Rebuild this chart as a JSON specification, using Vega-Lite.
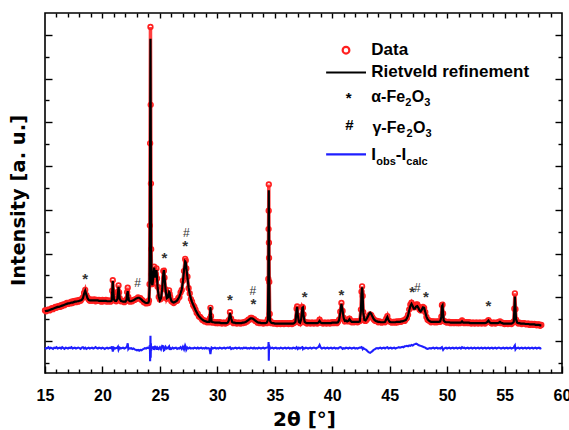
{
  "$schema": "https://vega.github.io/schema/vega-lite/v6.json",
  "width": 517,
  "height": 360,
  "autosize": {"type": "none"},
  "padding": {"left": 45, "top": 13, "right": 7, "bottom": 57},
  "background": "white",
  "config": {
    "view": {"stroke": "black", "strokeWidth": 1.6},
    "axis": {"domain": false, "grid": false, "tickColor": "black", "tickWidth": 1.4, "labels": false}
  },
  "data": {"values": [
{"x":15.0,"c":0.68,"o":0.70,"d":-0.15},{"x":15.1,"c":0.69,"o":0.68,"d":-0.17},{"x":15.2,"c":0.69,"o":0.71,"d":-0.16},{"x":15.3,"c":0.70,"o":0.72,"d":-0.14},{"x":15.4,"c":0.71,"o":0.70,"d":-0.17},
{"x":15.5,"c":0.72,"o":0.73,"d":-0.15},{"x":15.6,"c":0.73,"o":0.75,"d":-0.16},{"x":15.7,"c":0.74,"o":0.73,"d":-0.18},{"x":15.8,"c":0.75,"o":0.76,"d":-0.15},{"x":15.9,"c":0.76,"o":0.78,"d":-0.16},
{"x":16.0,"c":0.77,"o":0.76,"d":-0.14},{"x":16.1,"c":0.78,"o":0.79,"d":-0.17},{"x":16.2,"c":0.78,"o":0.80,"d":-0.16},{"x":16.3,"c":0.79,"o":0.78,"d":-0.15},{"x":16.4,"c":0.80,"o":0.82,"d":-0.17},
{"x":16.5,"c":0.81,"o":0.80,"d":-0.14},{"x":16.6,"c":0.82,"o":0.84,"d":-0.16},{"x":16.7,"c":0.83,"o":0.82,"d":-0.18},{"x":16.8,"c":0.84,"o":0.85,"d":-0.15},{"x":16.9,"c":0.85,"o":0.87,"d":-0.16},
{"x":17.0,"c":0.86,"o":0.85,"d":-0.17},{"x":17.1,"c":0.86,"o":0.88,"d":-0.15},{"x":17.2,"c":0.87,"o":0.86,"d":-0.16},{"x":17.3,"c":0.88,"o":0.90,"d":-0.14},{"x":17.4,"c":0.88,"o":0.87,"d":-0.17},
{"x":17.5,"c":0.89,"o":0.91,"d":-0.16},{"x":17.6,"c":0.90,"o":0.92,"d":-0.15},{"x":17.7,"c":0.90,"o":0.89,"d":-0.17},{"x":17.8,"c":0.91,"o":0.93,"d":-0.16},{"x":17.9,"c":0.91,"o":0.90,"d":-0.15},
{"x":18.0,"c":0.92,"o":0.94,"d":-0.16},{"x":18.1,"c":0.93,"o":0.92,"d":-0.18},{"x":18.2,"c":0.94,"o":0.96,"d":-0.15},{"x":18.3,"c":0.98,"o":1.00,"d":-0.14},{"x":18.4,"c":1.08,"o":1.10,"d":-0.17},
{"x":18.5,"c":1.15,"o":1.17,"d":-0.15},{"x":18.6,"c":1.06,"o":1.05,"d":-0.18},{"x":18.7,"c":0.98,"o":0.99,"d":-0.16},{"x":18.8,"c":0.94,"o":0.95,"d":-0.15},{"x":18.9,"c":0.93,"o":0.92,"d":-0.17},
{"x":19.0,"c":0.93,"o":0.95,"d":-0.16},{"x":19.1,"c":0.93,"o":0.92,"d":-0.15},{"x":19.2,"c":0.93,"o":0.94,"d":-0.17},{"x":19.3,"c":0.93,"o":0.95,"d":-0.16},{"x":19.4,"c":0.93,"o":0.91,"d":-0.14},
{"x":19.5,"c":0.93,"o":0.94,"d":-0.16},{"x":19.6,"c":0.93,"o":0.92,"d":-0.17},{"x":19.7,"c":0.92,"o":0.94,"d":-0.15},{"x":19.8,"c":0.92,"o":0.93,"d":-0.16},{"x":19.9,"c":0.92,"o":0.90,"d":-0.17},
{"x":20.0,"c":0.92,"o":0.94,"d":-0.15},{"x":20.1,"c":0.92,"o":0.91,"d":-0.16},{"x":20.2,"c":0.92,"o":0.93,"d":-0.18},{"x":20.3,"c":0.92,"o":0.94,"d":-0.16},{"x":20.4,"c":0.91,"o":0.90,"d":-0.15},
{"x":20.5,"c":0.91,"o":0.93,"d":-0.17},{"x":20.6,"c":0.91,"o":0.92,"d":-0.16},{"x":20.7,"c":0.91,"o":0.90,"d":-0.15},{"x":20.8,"c":0.92,"o":0.93,"d":-0.17},{"x":20.85,"c":1.10,"o":1.15,"d":-0.12},
{"x":20.9,"c":1.37,"o":1.39,"d":-0.24},{"x":20.95,"c":1.12,"o":1.10,"d":-0.19},{"x":21.0,"c":0.95,"o":0.96,"d":-0.15},{"x":21.1,"c":0.92,"o":0.93,"d":-0.17},{"x":21.2,"c":0.92,"o":0.91,"d":-0.16},
{"x":21.3,"c":0.96,"o":0.98,"d":-0.15},{"x":21.35,"c":1.10,"o":1.13,"d":-0.13},{"x":21.4,"c":1.24,"o":1.27,"d":-0.20},{"x":21.45,"c":1.12,"o":1.11,"d":-0.17},{"x":21.5,"c":0.97,"o":0.98,"d":-0.15},
{"x":21.6,"c":0.92,"o":0.91,"d":-0.17},{"x":21.7,"c":0.91,"o":0.92,"d":-0.16},{"x":21.8,"c":0.90,"o":0.91,"d":-0.15},{"x":21.9,"c":0.90,"o":0.89,"d":-0.17},{"x":22.0,"c":0.90,"o":0.91,"d":-0.16},
{"x":22.1,"c":0.94,"o":0.96,"d":-0.14},{"x":22.15,"c":1.08,"o":1.12,"d":-0.11},{"x":22.2,"c":1.14,"o":1.22,"d":-0.05},{"x":22.25,"c":1.02,"o":1.01,"d":-0.18},{"x":22.3,"c":0.93,"o":0.94,"d":-0.16},
{"x":22.4,"c":0.91,"o":0.90,"d":-0.17},{"x":22.5,"c":0.91,"o":0.92,"d":-0.16},{"x":22.6,"c":0.92,"o":0.91,"d":-0.18},{"x":22.7,"c":0.93,"o":0.94,"d":-0.17},{"x":22.8,"c":0.95,"o":0.94,"d":-0.19},
{"x":22.9,"c":0.97,"o":0.96,"d":-0.20},{"x":23.0,"c":0.98,"o":0.97,"d":-0.21},{"x":23.1,"c":0.99,"o":1.00,"d":-0.20},{"x":23.2,"c":0.99,"o":0.98,"d":-0.22},{"x":23.3,"c":0.97,"o":0.98,"d":-0.20},
{"x":23.4,"c":0.95,"o":0.94,"d":-0.21},{"x":23.5,"c":0.92,"o":0.93,"d":-0.19},{"x":23.6,"c":0.90,"o":0.89,"d":-0.18},{"x":23.7,"c":0.88,"o":0.89,"d":-0.16},{"x":23.8,"c":0.87,"o":0.86,"d":-0.17},
{"x":23.9,"c":0.87,"o":0.88,"d":-0.15},{"x":24.0,"c":0.88,"o":0.87,"d":-0.16},{"x":24.05,"c":0.92,"o":0.93,"d":-0.15},{"x":24.1,"c":1.25,"o":1.30,"d":-0.12},{"x":24.13,"c":2.60,"o":2.64,"d":-0.10},
{"x":24.15,"c":4.50,"o":4.52,"d":-0.46},{"x":24.18,"c":6.91,"o":7.18,"d":0.12},{"x":24.2,"c":5.30,"o":5.40,"d":-0.38},{"x":24.22,"c":3.55,"o":3.60,"d":-0.05},{"x":24.24,"c":2.10,"o":2.10,"d":-0.22},
{"x":24.27,"c":1.50,"o":1.52,"d":-0.14},{"x":24.3,"c":1.32,"o":1.30,"d":-0.19},{"x":24.35,"c":1.28,"o":1.31,"d":-0.13},{"x":24.4,"c":1.40,"o":1.38,"d":-0.18},{"x":24.45,"c":1.58,"o":1.62,"d":-0.12},
{"x":24.5,"c":1.68,"o":1.70,"d":-0.20},{"x":24.55,"c":1.55,"o":1.52,"d":-0.16},{"x":24.6,"c":1.45,"o":1.48,"d":-0.11},{"x":24.65,"c":1.55,"o":1.53,"d":-0.19},{"x":24.7,"c":1.62,"o":1.66,"d":-0.13},
{"x":24.75,"c":1.45,"o":1.43,"d":-0.20},{"x":24.8,"c":1.22,"o":1.24,"d":-0.15},{"x":24.9,"c":1.02,"o":1.01,"d":-0.18},{"x":25.0,"c":0.93,"o":0.95,"d":-0.14},{"x":25.1,"c":0.98,"o":0.97,"d":-0.19},
{"x":25.2,"c":1.18,"o":1.22,"d":-0.11},{"x":25.3,"c":1.55,"o":1.60,"d":-0.12},{"x":25.35,"c":1.62,"o":1.61,"d":-0.21},{"x":25.4,"c":1.48,"o":1.45,"d":-0.20},{"x":25.5,"c":1.15,"o":1.18,"d":-0.13},
{"x":25.6,"c":0.98,"o":0.97,"d":-0.17},{"x":25.7,"c":1.00,"o":1.02,"d":-0.15},{"x":25.8,"c":1.12,"o":1.16,"d":-0.12},{"x":25.85,"c":1.10,"o":1.08,"d":-0.20},{"x":25.9,"c":1.00,"o":1.01,"d":-0.16},
{"x":26.0,"c":0.92,"o":0.91,"d":-0.18},{"x":26.1,"c":0.89,"o":0.90,"d":-0.15},{"x":26.2,"c":0.88,"o":0.87,"d":-0.17},{"x":26.3,"c":0.89,"o":0.90,"d":-0.16},{"x":26.4,"c":0.91,"o":0.92,"d":-0.15},
{"x":26.5,"c":0.93,"o":0.92,"d":-0.18},{"x":26.6,"c":0.97,"o":0.98,"d":-0.16},{"x":26.7,"c":1.02,"o":1.01,"d":-0.17},{"x":26.8,"c":1.09,"o":1.11,"d":-0.14},{"x":26.9,"c":1.18,"o":1.17,"d":-0.18},
{"x":27.0,"c":1.35,"o":1.38,"d":-0.13},{"x":27.1,"c":1.62,"o":1.60,"d":-0.19},{"x":27.2,"c":1.82,"o":1.88,"d":-0.10},{"x":27.25,"c":1.80,"o":1.84,"d":-0.13},{"x":27.3,"c":1.68,"o":1.66,"d":-0.20},
{"x":27.4,"c":1.45,"o":1.47,"d":-0.15},{"x":27.5,"c":1.22,"o":1.21,"d":-0.17},{"x":27.6,"c":1.07,"o":1.09,"d":-0.15},{"x":27.7,"c":0.97,"o":0.96,"d":-0.17},{"x":27.8,"c":0.89,"o":0.90,"d":-0.16},
{"x":27.9,"c":0.83,"o":0.82,"d":-0.17},{"x":28.0,"c":0.77,"o":0.78,"d":-0.15},{"x":28.1,"c":0.71,"o":0.72,"d":-0.16},{"x":28.2,"c":0.66,"o":0.65,"d":-0.17},{"x":28.3,"c":0.61,"o":0.62,"d":-0.15},
{"x":28.4,"c":0.57,"o":0.56,"d":-0.17},{"x":28.5,"c":0.54,"o":0.55,"d":-0.16},{"x":28.6,"c":0.51,"o":0.52,"d":-0.15},{"x":28.7,"c":0.49,"o":0.48,"d":-0.17},{"x":28.8,"c":0.47,"o":0.48,"d":-0.16},
{"x":28.9,"c":0.46,"o":0.45,"d":-0.17},{"x":29.0,"c":0.45,"o":0.46,"d":-0.15},{"x":29.1,"c":0.44,"o":0.43,"d":-0.17},{"x":29.2,"c":0.44,"o":0.45,"d":-0.16},{"x":29.3,"c":0.44,"o":0.43,"d":-0.17},
{"x":29.35,"c":0.55,"o":0.52,"d":-0.22},{"x":29.4,"c":0.78,"o":0.76,"d":-0.30},{"x":29.45,"c":0.58,"o":0.57,"d":-0.20},{"x":29.5,"c":0.44,"o":0.45,"d":-0.15},{"x":29.6,"c":0.43,"o":0.42,"d":-0.17},
{"x":29.7,"c":0.43,"o":0.44,"d":-0.16},{"x":29.8,"c":0.42,"o":0.43,"d":-0.15},{"x":29.9,"c":0.42,"o":0.41,"d":-0.17},{"x":30.0,"c":0.42,"o":0.43,"d":-0.16},{"x":30.1,"c":0.42,"o":0.41,"d":-0.17},
{"x":30.2,"c":0.42,"o":0.43,"d":-0.15},{"x":30.3,"c":0.41,"o":0.42,"d":-0.16},{"x":30.4,"c":0.41,"o":0.40,"d":-0.17},{"x":30.5,"c":0.41,"o":0.42,"d":-0.16},{"x":30.6,"c":0.41,"o":0.42,"d":-0.15},
{"x":30.7,"c":0.41,"o":0.40,"d":-0.17},{"x":30.8,"c":0.41,"o":0.42,"d":-0.16},{"x":30.9,"c":0.42,"o":0.43,"d":-0.15},{"x":31.0,"c":0.47,"o":0.48,"d":-0.16},{"x":31.1,"c":0.64,"o":0.66,"d":-0.14},
{"x":31.2,"c":0.52,"o":0.51,"d":-0.18},{"x":31.3,"c":0.43,"o":0.44,"d":-0.16},{"x":31.4,"c":0.42,"o":0.41,"d":-0.17},{"x":31.5,"c":0.42,"o":0.43,"d":-0.16},{"x":31.6,"c":0.41,"o":0.42,"d":-0.15},
{"x":31.7,"c":0.41,"o":0.40,"d":-0.17},{"x":31.8,"c":0.41,"o":0.42,"d":-0.16},{"x":31.9,"c":0.41,"o":0.42,"d":-0.15},{"x":32.0,"c":0.41,"o":0.40,"d":-0.17},{"x":32.1,"c":0.41,"o":0.42,"d":-0.16},
{"x":32.2,"c":0.42,"o":0.41,"d":-0.17},{"x":32.3,"c":0.42,"o":0.43,"d":-0.15},{"x":32.4,"c":0.43,"o":0.42,"d":-0.16},{"x":32.5,"c":0.44,"o":0.45,"d":-0.15},{"x":32.6,"c":0.46,"o":0.45,"d":-0.17},
{"x":32.7,"c":0.48,"o":0.49,"d":-0.16},{"x":32.8,"c":0.50,"o":0.49,"d":-0.17},{"x":32.9,"c":0.52,"o":0.53,"d":-0.15},{"x":33.0,"c":0.52,"o":0.53,"d":-0.16},{"x":33.1,"c":0.51,"o":0.50,"d":-0.17},
{"x":33.2,"c":0.49,"o":0.50,"d":-0.15},{"x":33.3,"c":0.47,"o":0.46,"d":-0.17},{"x":33.4,"c":0.45,"o":0.46,"d":-0.16},{"x":33.5,"c":0.43,"o":0.42,"d":-0.17},{"x":33.6,"c":0.42,"o":0.43,"d":-0.15},
{"x":33.7,"c":0.42,"o":0.41,"d":-0.16},{"x":33.8,"c":0.41,"o":0.42,"d":-0.17},{"x":33.9,"c":0.41,"o":0.42,"d":-0.16},{"x":34.0,"c":0.41,"o":0.40,"d":-0.15},{"x":34.1,"c":0.41,"o":0.42,"d":-0.17},
{"x":34.2,"c":0.41,"o":0.42,"d":-0.16},{"x":34.3,"c":0.42,"o":0.41,"d":-0.15},{"x":34.4,"c":0.48,"o":0.50,"d":-0.14},{"x":34.44,"c":1.40,"o":1.42,"d":-0.13},{"x":34.46,"c":2.50,"o":2.56,"d":-0.02},
{"x":34.47,"c":2.95,"o":2.98,"d":-0.10},{"x":34.48,"c":3.45,"o":3.58,"d":-0.45},{"x":34.49,"c":2.90,"o":2.25,"d":-0.30},{"x":34.5,"c":2.40,"o":1.90,"d":-0.12},{"x":34.52,"c":1.30,"o":1.35,"d":-0.20},
{"x":34.56,"c":0.60,"o":0.62,"d":-0.14},{"x":34.6,"c":0.45,"o":0.46,"d":-0.17},{"x":34.7,"c":0.42,"o":0.41,"d":-0.16},{"x":34.8,"c":0.41,"o":0.42,"d":-0.15},{"x":34.9,"c":0.41,"o":0.40,"d":-0.17},
{"x":35.0,"c":0.40,"o":0.41,"d":-0.16},{"x":35.1,"c":0.40,"o":0.41,"d":-0.15},{"x":35.2,"c":0.40,"o":0.39,"d":-0.17},{"x":35.3,"c":0.40,"o":0.41,"d":-0.16},{"x":35.4,"c":0.40,"o":0.41,"d":-0.17},
{"x":35.5,"c":0.40,"o":0.39,"d":-0.15},{"x":35.6,"c":0.40,"o":0.41,"d":-0.16},{"x":35.7,"c":0.40,"o":0.41,"d":-0.17},{"x":35.8,"c":0.40,"o":0.39,"d":-0.16},{"x":35.9,"c":0.40,"o":0.41,"d":-0.15},
{"x":36.0,"c":0.40,"o":0.40,"d":-0.17},{"x":36.1,"c":0.40,"o":0.41,"d":-0.16},{"x":36.2,"c":0.40,"o":0.39,"d":-0.15},{"x":36.3,"c":0.40,"o":0.41,"d":-0.17},{"x":36.4,"c":0.40,"o":0.41,"d":-0.16},
{"x":36.5,"c":0.40,"o":0.39,"d":-0.17},{"x":36.6,"c":0.40,"o":0.41,"d":-0.15},{"x":36.7,"c":0.41,"o":0.42,"d":-0.16},{"x":36.8,"c":0.44,"o":0.45,"d":-0.17},{"x":36.9,"c":0.72,"o":0.74,"d":-0.14},
{"x":36.95,"c":0.78,"o":0.79,"d":-0.16},{"x":37.0,"c":0.60,"o":0.58,"d":-0.18},{"x":37.1,"c":0.44,"o":0.45,"d":-0.15},{"x":37.2,"c":0.42,"o":0.41,"d":-0.17},{"x":37.3,"c":0.50,"o":0.52,"d":-0.15},
{"x":37.4,"c":0.76,"o":0.78,"d":-0.14},{"x":37.45,"c":0.77,"o":0.76,"d":-0.18},{"x":37.5,"c":0.60,"o":0.61,"d":-0.16},{"x":37.6,"c":0.44,"o":0.43,"d":-0.17},{"x":37.7,"c":0.42,"o":0.43,"d":-0.15},
{"x":37.8,"c":0.41,"o":0.40,"d":-0.16},{"x":37.9,"c":0.41,"o":0.42,"d":-0.17},{"x":38.0,"c":0.41,"o":0.42,"d":-0.16},{"x":38.1,"c":0.41,"o":0.40,"d":-0.15},{"x":38.2,"c":0.41,"o":0.42,"d":-0.17},
{"x":38.3,"c":0.41,"o":0.42,"d":-0.16},{"x":38.4,"c":0.41,"o":0.40,"d":-0.15},{"x":38.5,"c":0.41,"o":0.42,"d":-0.16},{"x":38.6,"c":0.41,"o":0.42,"d":-0.17},{"x":38.7,"c":0.41,"o":0.40,"d":-0.15},
{"x":38.8,"c":0.42,"o":0.43,"d":-0.14},{"x":38.9,"c":0.46,"o":0.49,"d":-0.09},{"x":39.0,"c":0.42,"o":0.43,"d":-0.15},{"x":39.1,"c":0.41,"o":0.42,"d":-0.17},{"x":39.2,"c":0.41,"o":0.40,"d":-0.16},
{"x":39.3,"c":0.41,"o":0.42,"d":-0.15},{"x":39.4,"c":0.41,"o":0.42,"d":-0.17},{"x":39.5,"c":0.41,"o":0.40,"d":-0.16},{"x":39.6,"c":0.41,"o":0.42,"d":-0.15},{"x":39.7,"c":0.41,"o":0.42,"d":-0.17},
{"x":39.8,"c":0.41,"o":0.40,"d":-0.16},{"x":39.9,"c":0.41,"o":0.42,"d":-0.15},{"x":40.0,"c":0.42,"o":0.43,"d":-0.17},{"x":40.1,"c":0.42,"o":0.41,"d":-0.16},{"x":40.2,"c":0.42,"o":0.43,"d":-0.15},
{"x":40.3,"c":0.42,"o":0.43,"d":-0.17},{"x":40.4,"c":0.42,"o":0.41,"d":-0.16},{"x":40.5,"c":0.43,"o":0.44,"d":-0.17},{"x":40.6,"c":0.48,"o":0.49,"d":-0.15},{"x":40.7,"c":0.65,"o":0.67,"d":-0.14},
{"x":40.8,"c":0.85,"o":0.87,"d":-0.15},{"x":40.9,"c":0.70,"o":0.69,"d":-0.18},{"x":41.0,"c":0.52,"o":0.53,"d":-0.16},{"x":41.1,"c":0.46,"o":0.45,"d":-0.17},{"x":41.2,"c":0.47,"o":0.48,"d":-0.15},
{"x":41.3,"c":0.45,"o":0.46,"d":-0.16},{"x":41.4,"c":0.46,"o":0.45,"d":-0.17},{"x":41.5,"c":0.50,"o":0.51,"d":-0.15},{"x":41.6,"c":0.46,"o":0.47,"d":-0.16},{"x":41.7,"c":0.44,"o":0.43,"d":-0.17},
{"x":41.8,"c":0.44,"o":0.45,"d":-0.16},{"x":41.9,"c":0.44,"o":0.43,"d":-0.15},{"x":42.0,"c":0.44,"o":0.45,"d":-0.17},{"x":42.1,"c":0.44,"o":0.45,"d":-0.16},{"x":42.2,"c":0.44,"o":0.43,"d":-0.17},
{"x":42.3,"c":0.44,"o":0.45,"d":-0.16},{"x":42.4,"c":0.45,"o":0.46,"d":-0.15},{"x":42.5,"c":0.70,"o":0.72,"d":-0.15},{"x":42.55,"c":1.10,"o":1.13,"d":-0.14},{"x":42.6,"c":1.23,"o":1.25,"d":-0.15},
{"x":42.65,"c":1.05,"o":1.03,"d":-0.18},{"x":42.7,"c":0.65,"o":0.66,"d":-0.16},{"x":42.8,"c":0.48,"o":0.47,"d":-0.18},{"x":42.9,"c":0.47,"o":0.46,"d":-0.19},{"x":43.0,"c":0.51,"o":0.49,"d":-0.21},
{"x":43.1,"c":0.56,"o":0.53,"d":-0.24},{"x":43.2,"c":0.62,"o":0.58,"d":-0.26},{"x":43.3,"c":0.65,"o":0.61,"d":-0.27},{"x":43.4,"c":0.62,"o":0.59,"d":-0.25},{"x":43.5,"c":0.56,"o":0.54,"d":-0.23},
{"x":43.6,"c":0.51,"o":0.50,"d":-0.20},{"x":43.7,"c":0.48,"o":0.47,"d":-0.19},{"x":43.8,"c":0.46,"o":0.46,"d":-0.17},{"x":43.9,"c":0.45,"o":0.46,"d":-0.16},{"x":44.0,"c":0.44,"o":0.43,"d":-0.17},
{"x":44.1,"c":0.44,"o":0.45,"d":-0.16},{"x":44.2,"c":0.43,"o":0.44,"d":-0.15},{"x":44.3,"c":0.43,"o":0.42,"d":-0.17},{"x":44.4,"c":0.43,"o":0.44,"d":-0.16},{"x":44.5,"c":0.43,"o":0.44,"d":-0.15},
{"x":44.6,"c":0.44,"o":0.43,"d":-0.17},{"x":44.7,"c":0.50,"o":0.51,"d":-0.15},{"x":44.8,"c":0.55,"o":0.57,"d":-0.14},{"x":44.9,"c":0.48,"o":0.47,"d":-0.17},{"x":45.0,"c":0.44,"o":0.45,"d":-0.16},
{"x":45.1,"c":0.43,"o":0.44,"d":-0.15},{"x":45.2,"c":0.43,"o":0.42,"d":-0.17},{"x":45.3,"c":0.43,"o":0.44,"d":-0.16},{"x":45.4,"c":0.43,"o":0.44,"d":-0.15},{"x":45.5,"c":0.43,"o":0.42,"d":-0.17},
{"x":45.6,"c":0.44,"o":0.45,"d":-0.16},{"x":45.7,"c":0.44,"o":0.43,"d":-0.15},{"x":45.8,"c":0.44,"o":0.45,"d":-0.14},{"x":45.9,"c":0.44,"o":0.45,"d":-0.15},{"x":46.0,"c":0.45,"o":0.44,"d":-0.14},
{"x":46.1,"c":0.45,"o":0.46,"d":-0.13},{"x":46.2,"c":0.46,"o":0.47,"d":-0.14},{"x":46.3,"c":0.47,"o":0.46,"d":-0.12},{"x":46.4,"c":0.48,"o":0.50,"d":-0.12},{"x":46.5,"c":0.52,"o":0.53,"d":-0.11},
{"x":46.6,"c":0.58,"o":0.60,"d":-0.12},{"x":46.7,"c":0.70,"o":0.72,"d":-0.10},{"x":46.8,"c":0.80,"o":0.83,"d":-0.11},{"x":46.9,"c":0.85,"o":0.88,"d":-0.09},{"x":47.0,"c":0.80,"o":0.82,"d":-0.10},
{"x":47.1,"c":0.74,"o":0.77,"d":-0.08},{"x":47.2,"c":0.74,"o":0.78,"d":-0.07},{"x":47.3,"c":0.79,"o":0.83,"d":-0.06},{"x":47.4,"c":0.80,"o":0.84,"d":-0.07},{"x":47.5,"c":0.76,"o":0.79,"d":-0.09},
{"x":47.6,"c":0.70,"o":0.72,"d":-0.10},{"x":47.7,"c":0.68,"o":0.70,"d":-0.11},{"x":47.8,"c":0.72,"o":0.73,"d":-0.12},{"x":47.9,"c":0.77,"o":0.78,"d":-0.13},{"x":48.0,"c":0.76,"o":0.76,"d":-0.14},
{"x":48.1,"c":0.66,"o":0.66,"d":-0.15},{"x":48.2,"c":0.56,"o":0.55,"d":-0.17},{"x":48.3,"c":0.50,"o":0.49,"d":-0.18},{"x":48.4,"c":0.47,"o":0.47,"d":-0.17},{"x":48.5,"c":0.45,"o":0.46,"d":-0.16},
{"x":48.6,"c":0.44,"o":0.43,"d":-0.17},{"x":48.7,"c":0.44,"o":0.45,"d":-0.16},{"x":48.8,"c":0.44,"o":0.45,"d":-0.15},{"x":48.9,"c":0.44,"o":0.43,"d":-0.17},{"x":49.0,"c":0.44,"o":0.45,"d":-0.16},
{"x":49.1,"c":0.44,"o":0.43,"d":-0.15},{"x":49.2,"c":0.44,"o":0.45,"d":-0.17},{"x":49.3,"c":0.44,"o":0.45,"d":-0.16},{"x":49.4,"c":0.45,"o":0.44,"d":-0.17},{"x":49.5,"c":0.55,"o":0.56,"d":-0.15},
{"x":49.55,"c":0.80,"o":0.82,"d":-0.14},{"x":49.6,"c":0.82,"o":0.83,"d":-0.17},{"x":49.65,"c":0.65,"o":0.63,"d":-0.20},{"x":49.7,"c":0.47,"o":0.46,"d":-0.18},{"x":49.8,"c":0.44,"o":0.45,"d":-0.16},
{"x":49.9,"c":0.43,"o":0.44,"d":-0.15},{"x":50.0,"c":0.43,"o":0.42,"d":-0.17},{"x":50.1,"c":0.43,"o":0.44,"d":-0.16},{"x":50.2,"c":0.43,"o":0.44,"d":-0.15},{"x":50.3,"c":0.42,"o":0.41,"d":-0.17},
{"x":50.4,"c":0.42,"o":0.43,"d":-0.16},{"x":50.5,"c":0.42,"o":0.43,"d":-0.15},{"x":50.6,"c":0.42,"o":0.41,"d":-0.17},{"x":50.7,"c":0.42,"o":0.43,"d":-0.16},{"x":50.8,"c":0.42,"o":0.43,"d":-0.15},
{"x":50.9,"c":0.42,"o":0.41,"d":-0.17},{"x":51.0,"c":0.42,"o":0.43,"d":-0.16},{"x":51.1,"c":0.42,"o":0.41,"d":-0.15},{"x":51.2,"c":0.42,"o":0.43,"d":-0.17},{"x":51.3,"c":0.45,"o":0.47,"d":-0.14},
{"x":51.4,"c":0.42,"o":0.43,"d":-0.16},{"x":51.5,"c":0.42,"o":0.41,"d":-0.15},{"x":51.6,"c":0.42,"o":0.43,"d":-0.17},{"x":51.7,"c":0.42,"o":0.43,"d":-0.16},{"x":51.8,"c":0.42,"o":0.41,"d":-0.15},
{"x":51.9,"c":0.42,"o":0.43,"d":-0.17},{"x":52.0,"c":0.41,"o":0.42,"d":-0.16},{"x":52.1,"c":0.41,"o":0.40,"d":-0.15},{"x":52.2,"c":0.41,"o":0.42,"d":-0.17},{"x":52.3,"c":0.41,"o":0.42,"d":-0.16},
{"x":52.4,"c":0.41,"o":0.40,"d":-0.15},{"x":52.5,"c":0.41,"o":0.42,"d":-0.17},{"x":52.6,"c":0.41,"o":0.42,"d":-0.16},{"x":52.7,"c":0.41,"o":0.40,"d":-0.15},{"x":52.8,"c":0.41,"o":0.42,"d":-0.17},
{"x":52.9,"c":0.41,"o":0.42,"d":-0.16},{"x":53.0,"c":0.41,"o":0.40,"d":-0.15},{"x":53.1,"c":0.41,"o":0.42,"d":-0.17},{"x":53.2,"c":0.41,"o":0.42,"d":-0.16},{"x":53.3,"c":0.41,"o":0.40,"d":-0.15},
{"x":53.4,"c":0.42,"o":0.43,"d":-0.17},{"x":53.5,"c":0.44,"o":0.45,"d":-0.16},{"x":53.6,"c":0.47,"o":0.48,"d":-0.15},{"x":53.7,"c":0.43,"o":0.44,"d":-0.17},{"x":53.8,"c":0.41,"o":0.42,"d":-0.16},
{"x":53.9,"c":0.41,"o":0.40,"d":-0.15},{"x":54.0,"c":0.41,"o":0.42,"d":-0.17},{"x":54.1,"c":0.41,"o":0.42,"d":-0.16},{"x":54.2,"c":0.41,"o":0.40,"d":-0.15},{"x":54.3,"c":0.41,"o":0.42,"d":-0.17},
{"x":54.4,"c":0.41,"o":0.42,"d":-0.16},{"x":54.5,"c":0.42,"o":0.43,"d":-0.15},{"x":54.6,"c":0.44,"o":0.45,"d":-0.16},{"x":54.7,"c":0.42,"o":0.41,"d":-0.17},{"x":54.8,"c":0.41,"o":0.42,"d":-0.16},
{"x":54.9,"c":0.40,"o":0.41,"d":-0.15},{"x":55.0,"c":0.40,"o":0.39,"d":-0.17},{"x":55.1,"c":0.40,"o":0.41,"d":-0.16},{"x":55.2,"c":0.40,"o":0.41,"d":-0.15},{"x":55.3,"c":0.40,"o":0.39,"d":-0.17},
{"x":55.4,"c":0.40,"o":0.41,"d":-0.16},{"x":55.5,"c":0.40,"o":0.41,"d":-0.15},{"x":55.6,"c":0.40,"o":0.39,"d":-0.17},{"x":55.7,"c":0.41,"o":0.42,"d":-0.16},{"x":55.8,"c":0.44,"o":0.45,"d":-0.15},
{"x":55.85,"c":0.70,"o":0.74,"d":-0.12},{"x":55.9,"c":1.02,"o":1.09,"d":-0.10},{"x":55.95,"c":0.75,"o":0.73,"d":-0.19},{"x":56.0,"c":0.50,"o":0.49,"d":-0.17},{"x":56.1,"c":0.42,"o":0.43,"d":-0.16},
{"x":56.2,"c":0.41,"o":0.40,"d":-0.15},{"x":56.3,"c":0.41,"o":0.42,"d":-0.17},{"x":56.4,"c":0.40,"o":0.41,"d":-0.16},{"x":56.5,"c":0.40,"o":0.39,"d":-0.15},{"x":56.6,"c":0.40,"o":0.41,"d":-0.17},
{"x":56.7,"c":0.40,"o":0.41,"d":-0.16},{"x":56.8,"c":0.39,"o":0.40,"d":-0.15},{"x":56.9,"c":0.39,"o":0.38,"d":-0.17},{"x":57.0,"c":0.39,"o":0.40,"d":-0.16},{"x":57.1,"c":0.39,"o":0.40,"d":-0.15},
{"x":57.2,"c":0.38,"o":0.37,"d":-0.17},{"x":57.3,"c":0.38,"o":0.39,"d":-0.16},{"x":57.4,"c":0.38,"o":0.39,"d":-0.15},{"x":57.5,"c":0.38,"o":0.37,"d":-0.17},{"x":57.6,"c":0.38,"o":0.39,"d":-0.16},
{"x":57.7,"c":0.37,"o":0.38,"d":-0.15},{"x":57.8,"c":0.37,"o":0.36,"d":-0.17},{"x":57.9,"c":0.37,"o":0.38,"d":-0.16},{"x":58.0,"c":0.37,"o":0.38,"d":-0.15},{"x":58.1,"c":0.36,"o":0.35,"d":-0.17},
{"x":58.2,"c":0.36,"o":0.37,"d":-0.16}
  ]},
  "resolve": {"axis": {"x": "independent", "y": "independent"}},
  "layer": [
    {
      "mark": {"type": "line", "color": "#ff2a2a", "strokeWidth": 3.5, "opacity": 0.9},
      "encoding": {
        "x": {"field": "x", "type": "quantitative", "scale": {"domain": [15, 60], "nice": false, "zero": false},
              "axis": {"orient": "bottom", "values": [15, 20, 25, 30, 35, 40, 45, 50, 55, 60], "tickSize": -7, "labels": true,
                       "labelFont": "Liberation Sans", "labelFontWeight": "bold", "labelFontSize": 16, "labelColor": "black", "labelPadding": 21, "labelFlush": false,
                       "title": "2θ [°]", "titleFont": "DejaVu Sans", "titleFontWeight": "bold", "titleFontSize": 20, "titleColor": "black",
                       "titleX": 259, "titleY": 52, "titleBaseline": "alphabetic", "titleAlign": "center"}},
        "y": {"field": "o", "type": "quantitative", "scale": {"domain": [-0.73, 7.5], "nice": false, "zero": false},
              "axis": {"orient": "left", "values": [0, 1, 2, 3, 4, 5, 6, 7], "tickSize": -7,
                       "title": "Intensity [a. u.]", "titleFont": "DejaVu Sans", "titleFontWeight": "bold", "titleFontSize": 19.5, "titleColor": "black",
                       "titleX": -17, "titleY": 187, "titleAngle": 270, "titleBaseline": "bottom", "titleAlign": "center"}}
      }
    },
    {
      "mark": {"type": "point", "filled": false, "color": "#ff1f1f", "size": 22, "strokeWidth": 1.6, "opacity": 1},
      "encoding": {
        "x": {"field": "x", "type": "quantitative", "axis": null},
        "y": {"field": "o", "type": "quantitative", "axis": null}
      }
    },
    {
      "mark": {"type": "line", "color": "black", "strokeWidth": 2.2},
      "encoding": {
        "x": {"field": "x", "type": "quantitative", "axis": {"orient": "bottom", "values": [16,17,18,19,21,22,23,24,26,27,28,29,31,32,33,34,36,37,38,39,41,42,43,44,46,47,48,49,51,52,53,54,56,57,58,59], "tickSize": -4, "title": null}},
        "y": {"field": "c", "type": "quantitative", "axis": {"orient": "left", "values": [-0.5, 0.5, 1.5, 2.5, 3.5, 4.5, 5.5, 6.5], "tickSize": -4, "title": null}}
      }
    },
    {
      "mark": {"type": "line", "color": "#1e1eff", "strokeWidth": 2.1},
      "encoding": {
        "x": {"field": "x", "type": "quantitative", "axis": {"orient": "top", "values": [20, 25, 30, 35, 40, 45, 50, 55], "tickSize": -5, "title": null}},
        "y": {"field": "d", "type": "quantitative", "axis": {"orient": "right", "values": [0, 1, 2, 3, 4, 5, 6, 7], "tickSize": -7, "title": null}}
      }
    },
    {
      "data": {"values": [{"x": 18.5, "y": 1.51}, {"x": 25.4, "y": 2.0}, {"x": 27.2, "y": 2.27}, {"x": 31.1, "y": 1.02}, {"x": 33.15, "y": 0.93}, {"x": 37.6, "y": 1.1}, {"x": 40.8, "y": 1.15}, {"x": 46.95, "y": 1.22}, {"x": 48.15, "y": 1.09}, {"x": 53.6, "y": 0.89}]},
      "mark": {"type": "text", "text": "*", "font": "Liberation Sans", "fontWeight": "bold", "fontSize": 15, "color": "#333333", "baseline": "middle", "align": "center", "dy": 4},
      "encoding": {
        "x": {"field": "x", "type": "quantitative", "axis": {"orient": "top", "values": [16,17,18,19,21,22,23,24,26,27,28,29,31,32,33,34,36,37,38,39,41,42,43,44,46,47,48,49,51,52,53,54,56,57,58,59], "tickSize": -4, "title": null}},
        "y": {"field": "y", "type": "quantitative", "axis": {"orient": "right", "values": [-0.5, 0.5, 1.5, 2.5, 3.5, 4.5, 5.5, 6.5], "tickSize": -4, "title": null}}
      }
    },
    {
      "data": {"values": [{"x": 23.05, "y": 1.33}, {"x": 27.3, "y": 2.48}, {"x": 33.1, "y": 1.15}, {"x": 47.4, "y": 1.22}]},
      "mark": {"type": "text", "text": "#", "font": "Liberation Sans", "fontSize": 12, "color": "#333333", "baseline": "middle", "align": "center"},
      "encoding": {
        "x": {"field": "x", "type": "quantitative", "axis": null},
        "y": {"field": "y", "type": "quantitative", "axis": null}
      }
    },
    {
      "data": {"values": [{"x": 41.2, "y": 6.65}]},
      "mark": {"type": "point", "filled": false, "color": "#ff1f1f", "size": 45, "strokeWidth": 2.2, "opacity": 1},
      "encoding": {"x": {"field": "x", "type": "quantitative", "axis": null}, "y": {"field": "y", "type": "quantitative", "axis": null}}
    },
    {
      "data": {"values": [{"x": 39.47, "x2": 42.94, "y": 6.14, "k": "calc"}, {"x": 39.47, "x2": 42.94, "y": 4.27, "k": "diff"}]},
      "mark": {"type": "rule", "strokeWidth": 2.2},
      "encoding": {
        "x": {"field": "x", "type": "quantitative", "axis": null}, "x2": {"field": "x2"},
        "y": {"field": "y", "type": "quantitative", "axis": null},
        "color": {"field": "k", "type": "nominal", "scale": {"domain": ["calc", "diff"], "range": ["black", "#1e1eff"]}, "legend": null}
      }
    },
    {
      "data": {"values": [{"x": 43.4, "y": 6.65, "t": "Data"}, {"x": 43.4, "y": 6.14, "t": "Rietveld refinement"}, {"x": 43.4, "y": 4.25, "t": "I"}]},
      "mark": {"type": "text", "font": "Liberation Sans", "fontWeight": "bold", "fontSize": 17, "color": "black", "align": "left", "baseline": "middle"},
      "encoding": {"x": {"field": "x", "type": "quantitative", "axis": null}, "y": {"field": "y", "type": "quantitative", "axis": null}, "text": {"field": "t"}}
    },
    {
      "data": {"values": [{"x": 43.4, "y": 5.57, "t": "α-Fe"}, {"x": 43.5, "y": 4.87, "t": "γ-Fe"}]},
      "mark": {"type": "text", "font": "Liberation Sans", "fontWeight": "bold", "fontSize": 16, "color": "black", "align": "left", "baseline": "middle"},
      "encoding": {"x": {"field": "x", "type": "quantitative", "axis": null}, "y": {"field": "y", "type": "quantitative", "axis": null}, "text": {"field": "t"}}
    },
    {
      "data": {"values": [{"x": 43.4, "y": 5.57}, {"x": 43.5, "y": 4.87}]},
      "mark": {"type": "text", "text": "2", "font": "Liberation Sans", "fontWeight": "bold", "fontSize": 11, "color": "black", "align": "left", "baseline": "middle", "dx": 34, "dy": 6},
      "encoding": {"x": {"field": "x", "type": "quantitative", "axis": null}, "y": {"field": "y", "type": "quantitative", "axis": null}}
    },
    {
      "data": {"values": [{"x": 43.4, "y": 5.57}, {"x": 43.5, "y": 4.87}]},
      "mark": {"type": "text", "text": "O", "font": "Liberation Sans", "fontWeight": "bold", "fontSize": 16, "color": "black", "align": "left", "baseline": "middle", "dx": 40.5},
      "encoding": {"x": {"field": "x", "type": "quantitative", "axis": null}, "y": {"field": "y", "type": "quantitative", "axis": null}}
    },
    {
      "data": {"values": [{"x": 43.4, "y": 5.57}, {"x": 43.5, "y": 4.87}]},
      "mark": {"type": "text", "text": "3", "font": "Liberation Sans", "fontWeight": "bold", "fontSize": 11, "color": "black", "align": "left", "baseline": "middle", "dx": 53, "dy": 6},
      "encoding": {"x": {"field": "x", "type": "quantitative", "axis": null}, "y": {"field": "y", "type": "quantitative", "axis": null}}
    },
    {
      "data": {"values": [{"x": 43.4, "y": 4.25}]},
      "mark": {"type": "text", "text": "obs", "font": "Liberation Sans", "fontWeight": "bold", "fontSize": 11, "color": "black", "align": "left", "baseline": "middle", "dx": 5, "dy": 7},
      "encoding": {"x": {"field": "x", "type": "quantitative", "axis": null}, "y": {"field": "y", "type": "quantitative", "axis": null}}
    },
    {
      "data": {"values": [{"x": 43.4, "y": 4.25}]},
      "mark": {"type": "text", "text": "-I", "font": "Liberation Sans", "fontWeight": "bold", "fontSize": 17, "color": "black", "align": "left", "baseline": "middle", "dx": 24.5},
      "encoding": {"x": {"field": "x", "type": "quantitative", "axis": null}, "y": {"field": "y", "type": "quantitative", "axis": null}}
    },
    {
      "data": {"values": [{"x": 43.4, "y": 4.25}]},
      "mark": {"type": "text", "text": "calc", "font": "Liberation Sans", "fontWeight": "bold", "fontSize": 11, "color": "black", "align": "left", "baseline": "middle", "dx": 35, "dy": 7},
      "encoding": {"x": {"field": "x", "type": "quantitative", "axis": null}, "y": {"field": "y", "type": "quantitative", "axis": null}}
    },
    {
      "data": {"values": [{"x": 41.43, "y": 5.64}]},
      "mark": {"type": "text", "text": "*", "font": "Liberation Sans", "fontWeight": "bold", "fontSize": 15, "color": "black", "align": "center", "baseline": "middle", "dy": 4},
      "encoding": {"x": {"field": "x", "type": "quantitative", "axis": null}, "y": {"field": "y", "type": "quantitative", "axis": null}}
    },
    {
      "data": {"values": [{"x": 41.5, "y": 4.93}]},
      "mark": {"type": "text", "text": "#", "font": "Liberation Sans", "fontWeight": "bold", "fontSize": 15, "color": "black", "align": "center", "baseline": "middle"},
      "encoding": {"x": {"field": "x", "type": "quantitative", "axis": null}, "y": {"field": "y", "type": "quantitative", "axis": null}}
    }
  ]
}
